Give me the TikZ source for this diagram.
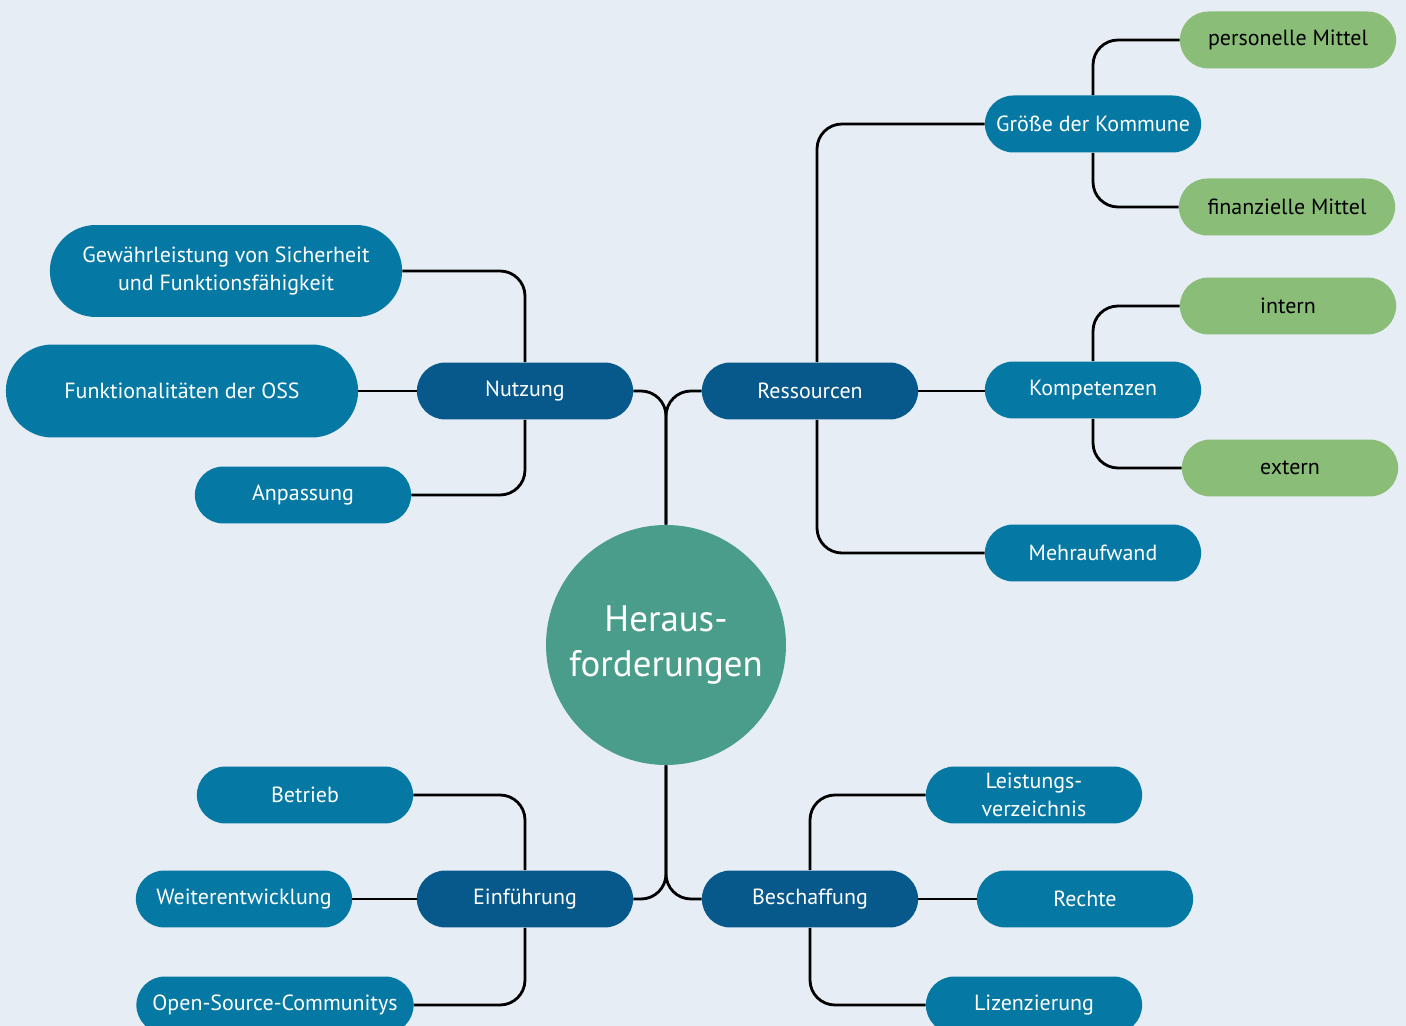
\documentclass[tikz,border=0pt]{standalone}
\usepackage{fontspec}
\setmainfont{PT Sans}
\usetikzlibrary{shapes.misc}
\definecolor{bgblue}{HTML}{E6EDF4}
\definecolor{darkblue}{HTML}{07588B}
\definecolor{midblue}{HTML}{0578A3}
\definecolor{leafgreen}{HTML}{8ABD78}
\definecolor{circlegreen}{HTML}{4A9C8B}
\begin{document}
\begin{tikzpicture}[x=0.02cm, y=-0.02cm,
    main/.style={rounded rectangle, fill=darkblue, text=white, minimum width=4.56cm,
        minimum height=1.14cm, align=center, font=\fontsize{12.5}{16}\selectfont},
    sub/.style={main, fill=midblue},
    leaf/.style={main, fill=leafgreen, text=black},
    link/.style={line width=1.6pt, rounded corners=0.5cm}]
        \fill[bgblue] (0,0) rectangle (1406,1026);
        \useasboundingbox (0,0) rectangle (1406,1026);

        % centre
        \node[circle, fill=circlegreen, text=white, minimum size=4.8cm, align=center,
            font=\fontsize{21}{26}\selectfont] (heraus) at (666,645) {Heraus-\\forderungen};

        % main branches
        \node[main] (nutzung) at (525,391) {Nutzung};
        \node[main] (ressourcen) at (810,391) {Ressourcen};
        \node[main] (einfuehrung) at (525,899) {Einführung};
        \node[main] (beschaffung) at (810,899) {Beschaffung};

        % Nutzung
        \node[sub, minimum width=7.28cm, minimum height=1.84cm] (gewaehr) at (226,271) {Gewährleistung von Sicherheit\\und Funktionsfähigkeit};
        \node[sub, minimum width=7.28cm, minimum height=1.86cm] (funktion) at (182,391) {Funktionalitäten der OSS};
        \node[sub] (anpassung) at (303,495) {Anpassung};

        % Ressourcen
        \node[sub] (groesse) at (1093,124) {Größe der Kommune};
        \node[leaf] (personell) at (1288,40) {personelle Mittel};
        \node[leaf] (finanziell) at (1287,207) {finanzielle Mittel};
        \node[sub] (kompetenz) at (1093,390) {Kompetenzen};
        \node[leaf] (intern) at (1288,306) {intern};
        \node[leaf] (extern) at (1290,468) {extern};
        \node[sub] (mehraufwand) at (1093,553) {Mehraufwand};

        % Einführung
        \node[sub] (betrieb) at (305,795) {Betrieb};
        \node[sub] (weiter) at (244,899) {Weiterentwicklung};
        \node[sub, minimum width=5.78cm] (community) at (275,1005) {Open-Source-Communitys};

        % Beschaffung
        \node[sub] (leistung) at (1034,795) {Leistungs-\\verzeichnis};
        \node[sub] (rechte) at (1085,899) {Rechte};
        \node[sub] (lizenz) at (1034,1005) {Lizenzierung};

        % connectors
        \draw[link] (nutzung.east) -| (heraus.north);
        \draw[link] (ressourcen.west) -| (heraus.north);
        \draw[link] (heraus.south) |- (einfuehrung.east);
        \draw[link] (heraus.south) |- (beschaffung.west);

        \draw[link] (nutzung.north) |- (gewaehr.east);
        \draw[link] (funktion.east) -- (nutzung.west);
        \draw[link] (nutzung.south) |- (anpassung.east);

        \draw[link] (ressourcen.north) ++(7,0) |- (groesse.west);
        \draw[link] (ressourcen.east) -- (kompetenz.west |- ressourcen.east);
        \draw[link] (ressourcen.south) ++(7,0) |- (mehraufwand.west);
        \draw[link] (groesse.north) |- (personell.west);
        \draw[link] (groesse.south) |- (finanziell.west);
        \draw[link] (kompetenz.north) |- (intern.west);
        \draw[link] (kompetenz.south) |- (extern.west);

        \draw[link] (einfuehrung.north) |- (betrieb.east);
        \draw[link] (weiter.east) -- (einfuehrung.west);
        \draw[link] (einfuehrung.south) |- (community.east);

        \draw[link] (beschaffung.north) |- (leistung.west);
        \draw[link] (beschaffung.east) -- (rechte.west);
        \draw[link] (beschaffung.south) |- (lizenz.west);
    \end{tikzpicture}
\end{document}
